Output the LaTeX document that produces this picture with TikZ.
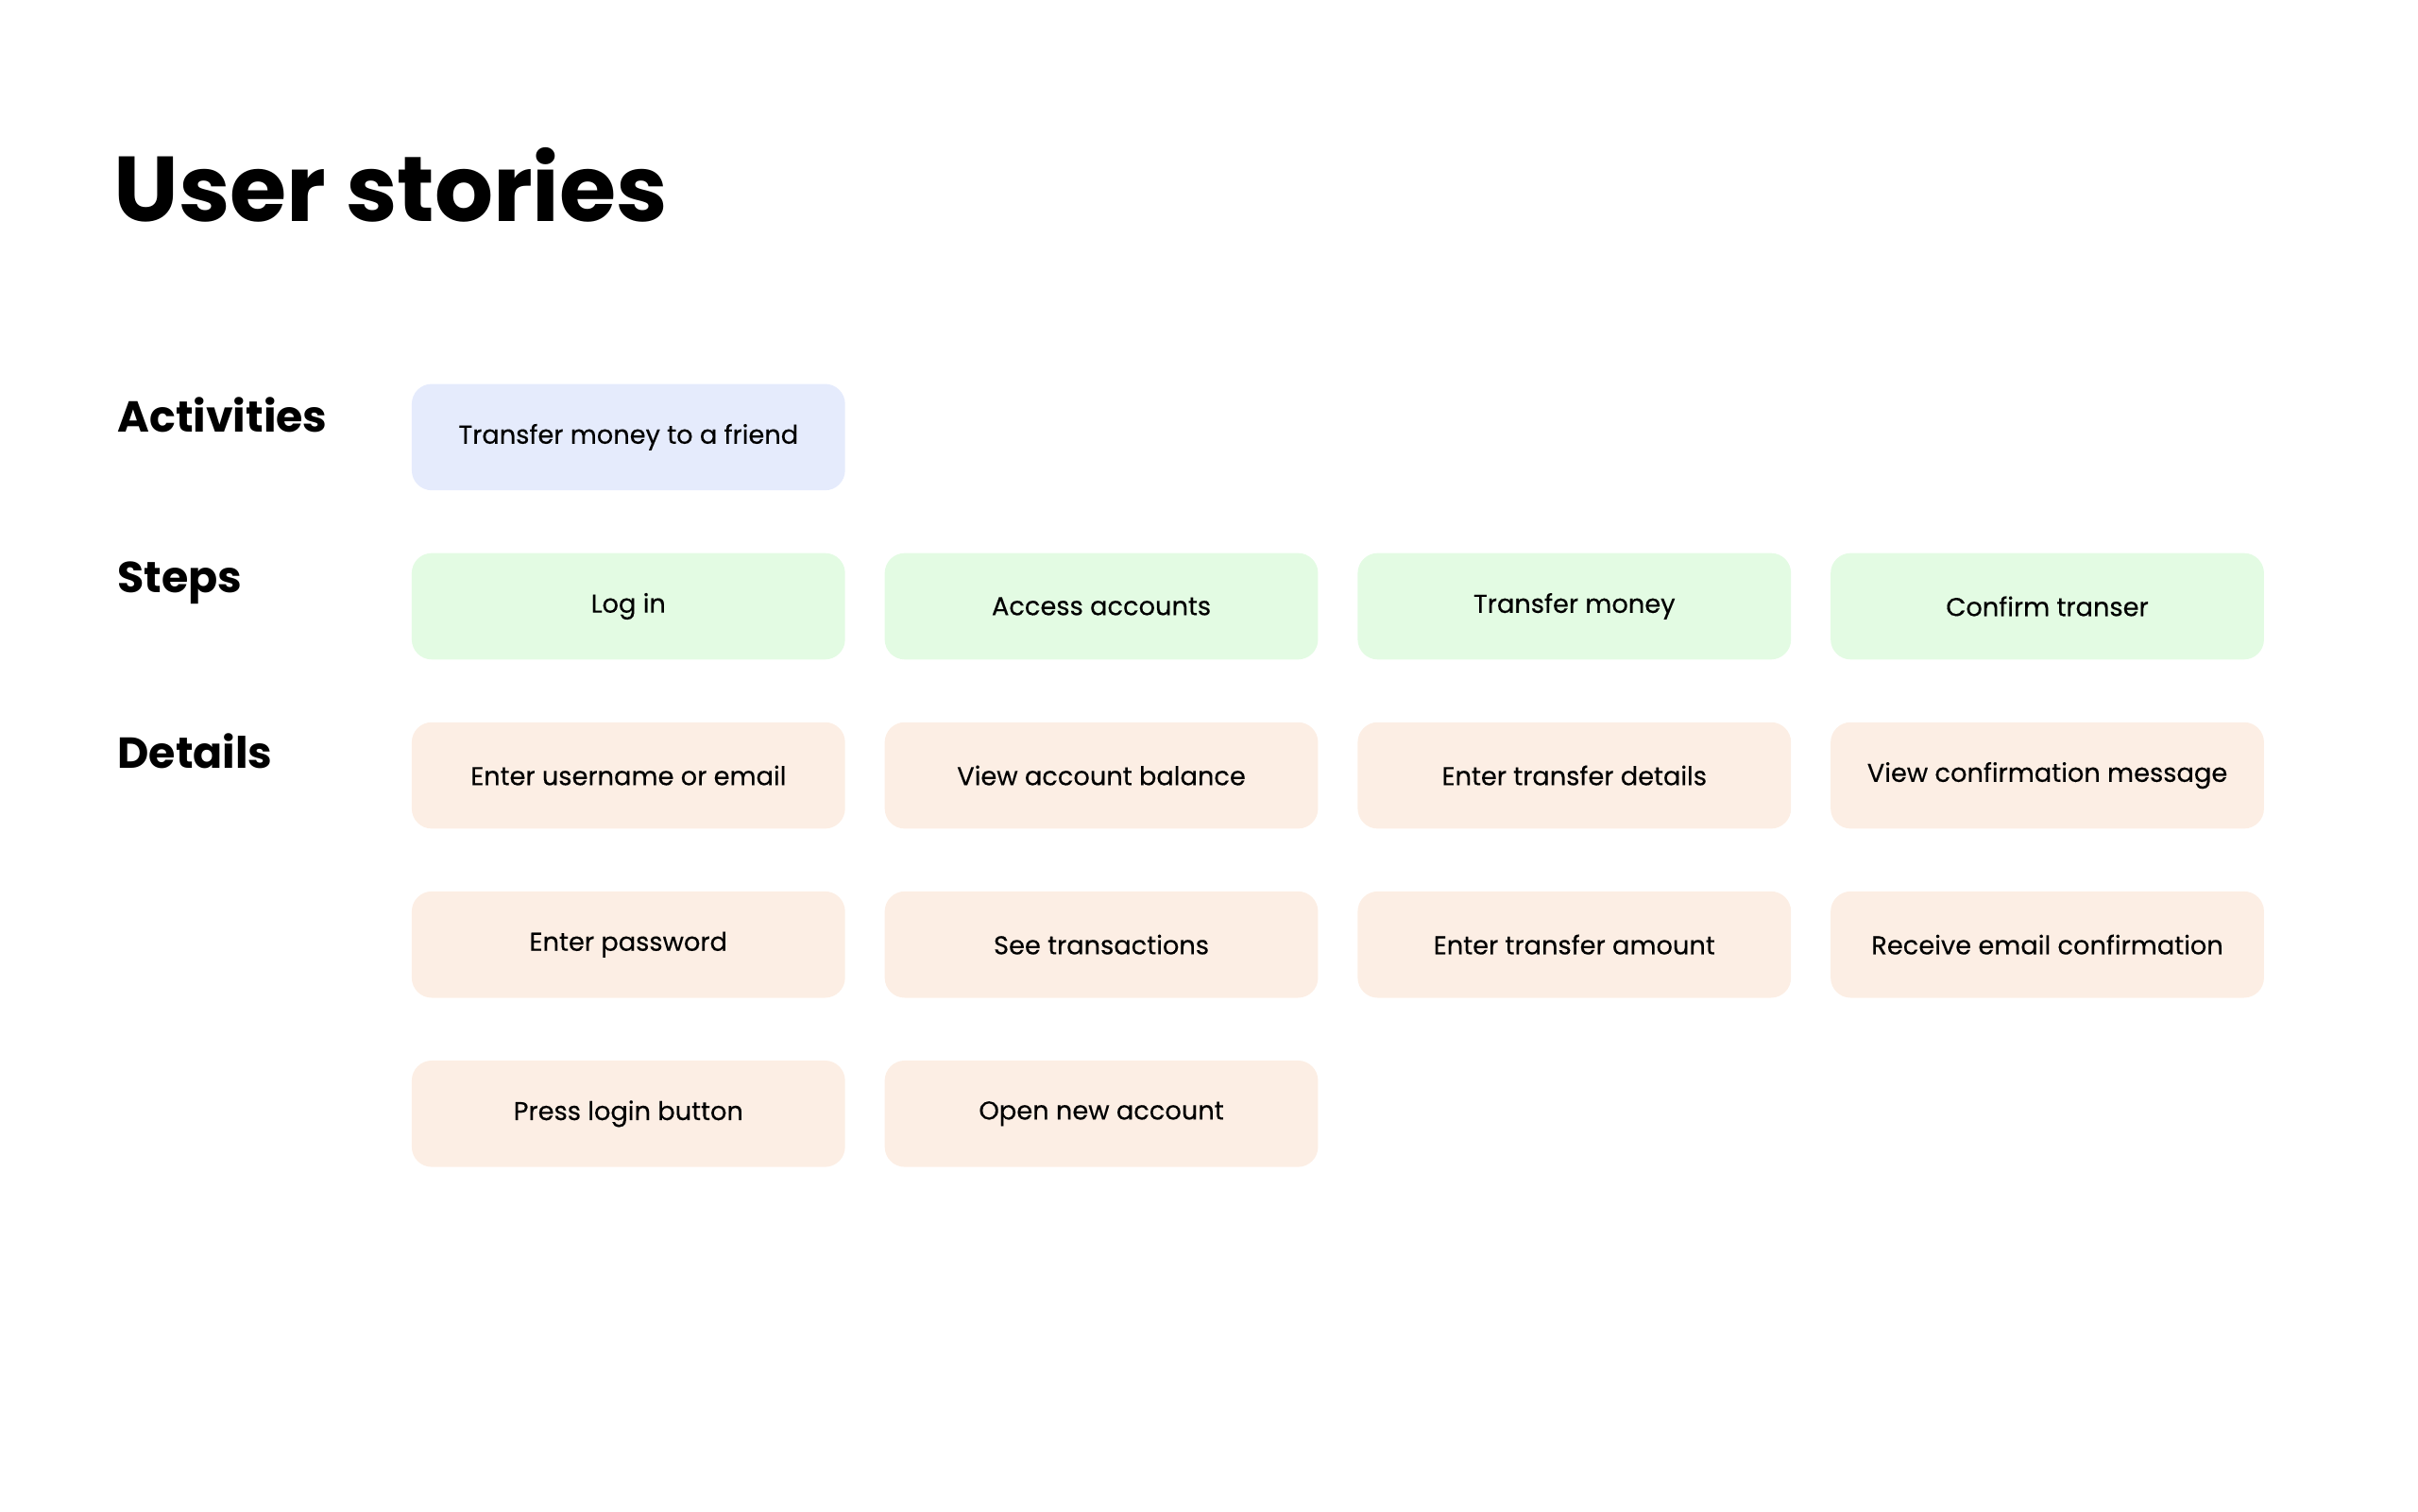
\documentclass[tikz,border=0pt]{standalone}
\usepackage{fontspec}
\setmainfont{Poppins}
\usetikzlibrary{positioning}
\definecolor{activityblue}{HTML}{E5EBFC}
\definecolor{stepgreen}{HTML}{E3FBE3}
\definecolor{detailpeach}{HTML}{FCEEE4}
\tikzset{
card/.style={minimum width=5.62cm, minimum height=1.38cm, rounded corners=0.26cm, inner sep=0pt, font=\fontsize{9.5}{11}\selectfont\addfontfeature{FakeBold=0.3}}, % every sticky card
activitycard/.style={card, fill=activityblue},
stepcard/.style={card, fill=stepgreen},
detailcard/.style={card, fill=detailpeach},
rowlabel/.style={anchor=west, font=\fontsize{16}{18}\selectfont\bfseries}, % labels on the left
node distance=0.8cm and 0.5cm,
}
\begin{document}
\begin{tikzpicture}
    \useasboundingbox (0,0) rectangle (31.36,-19.6);
    \node[anchor=west, font=\fontsize{34}{38}\selectfont\bfseries] (title) at (1.35,-2.4) {User stories};
    \node[activitycard] (act) at (8.15,-5.67) {Transfer money to a friend};
    \node[stepcard, below=of act] (login) {Log in};
    \node[stepcard, right=of login] (access) {Access accounts};
    \node[stepcard, right=of access] (transfer) {Transfer money};
    \node[stepcard, right=of transfer] (confirm) {Confirm transer};
    \node[detailcard, below=of login] (user) {Enter username or email};
    \node[detailcard, below=of user] (pass) {Enter password};
    \node[detailcard, below=of pass] (press) {Press login button};
    \node[detailcard, below=of access] (balance) {View account balance};
    \node[detailcard, below=of balance] (trans) {See transactions};
    \node[detailcard, below=of trans] (open) {Open new account};
    \node[detailcard, below=of transfer] (tdetails) {Enter transfer details};
    \node[detailcard, below=of tdetails] (tamount) {Enter transfer amount};
    \node[detailcard, below=of confirm] (viewmsg) {View confirmation message};
    \node[detailcard, below=of viewmsg] (email) {Receive email confirmation};
    \node[rowlabel] (lact) at (1.4,-5.38) {Activities};
    \node[rowlabel] (lstep) at (1.4,-7.56) {Steps};
    \node[rowlabel] (ldet) at (1.4,-9.74) {Details};
\end{tikzpicture}
\end{document}
